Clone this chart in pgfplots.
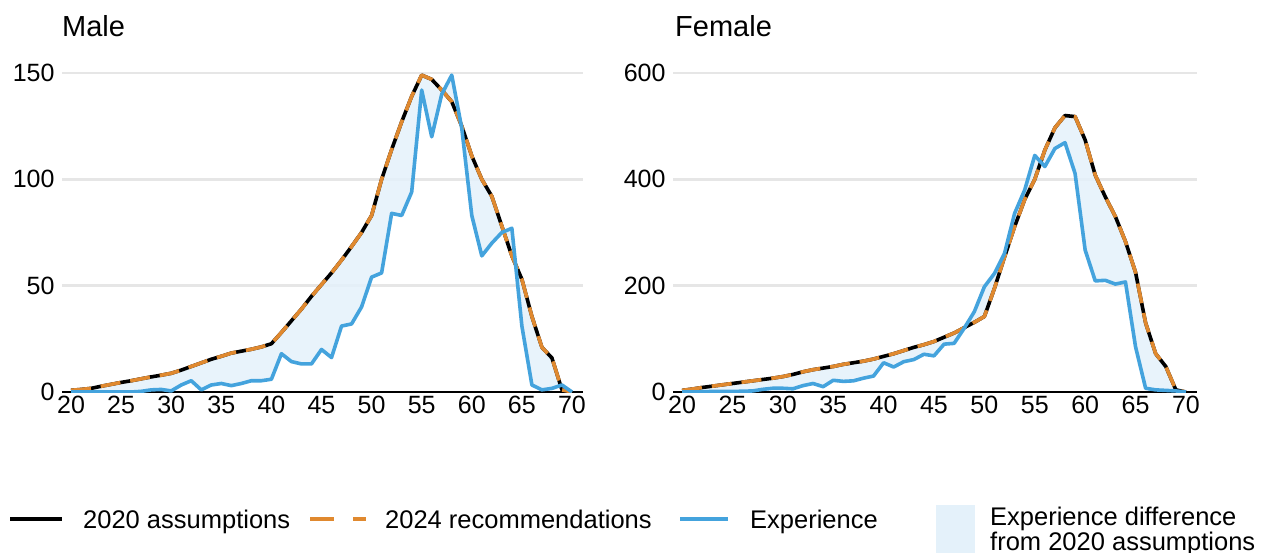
\documentclass[border=0pt]{standalone}
\usepackage{fontspec}
\setmainfont{Liberation Sans}
\usepackage{pgfplots}
\usepackage{pgfplotstable}
\pgfplotsset{compat=1.18}
\usepgfplotslibrary{fillbetween}

\definecolor{expblue}{HTML}{44A3DD}
\definecolor{recorange}{HTML}{E0892F}
\definecolor{fillblue}{HTML}{E4F1FA}
\definecolor{gridgray}{HTML}{E6E6E6}

% age, 2020 assumptions, 2024 recommendations, experience
\pgfplotstableread{
age assume rec exp
20 0.8 0.8 0
21 1.2 1.2 0
22 1.7 1.7 0
23 2.7 2.7 0
24 3.6 3.6 0
25 4.5 4.5 0
26 5.3 5.3 0
27 6.2 6.2 0.3
28 7.1 7.1 1
29 7.9 7.9 1.2
30 8.8 8.8 0.5
31 10.3 10.3 3.3
32 12.0 12.0 5.3
33 13.7 13.7 1
34 15.4 15.4 3.3
35 16.8 16.8 4
36 18.3 18.3 3
37 19.2 19.2 4
38 20.1 20.1 5.3
39 21.2 21.2 5.3
40 22.7 22.7 6
41 28 28 18
42 33.5 33.5 14.3
43 39 39 13.2
44 45 45 13.2
45 50.5 50.5 20
46 56 56 16.2
47 62 62 31
48 68.4 68.4 32
49 75 75 40
50 83 83 54
51 100 100 56
52 114 114 84
53 127 127 83
54 139 139 94
55 149 149 142
56 147 147 120
57 142 142 140
58 136.5 136.5 149
59 125 125 124
60 111 111 83
61 100 100 64
62 92 92 70
63 78 78 75
64 64 64 77
65 53 53 31
66 35.5 35.5 3.3
67 21 21 1
68 16 16 1.7
69 1 1 3.3
70 0 0 0
}\maletable

\pgfplotstableread{
age assume rec exp
20 3 3 0
21 5.5 5.5 0
22 8.5 8.5 0.5
23 11 11 1
24 13.5 13.5 1
25 16 16 1
26 18.5 18.5 1.5
27 21 21 2
28 23.5 23.5 5
29 26 26 7
30 29 29 7
31 33 33 6
32 38 38 12
33 42 42 16
34 45 45 10
35 48 48 22
36 52 52 20
37 55 55 21
38 58 58 26
39 62 62 30
40 67 67 55
41 72 72 47
42 78 78 57
43 84 84 61
44 89 89 71
45 95 95 68
46 103 103 90
47 111 111 91.5
48 121 121 120
49 131 131 151
50 142 142 198
51 195 195 223
52 254 254 261
53 311 311 336
54 362 362 380
55 400 400 445
56 455 455 424
57 497 497 458
58 520 520 469
59 518 518 411
60 474 474 267
61 408 408 209
62 367 367 210
63 330 330 203
64 283 283 207
65 225 225 85
66 130 130 7
67 72 72 4
68 48 48 3
69 4 4 2
70 0 0 0
}\femaletable

\newcommand\tickfont{\fontsize{25}{29}\selectfont}
\newcommand\legendfont{\fontsize{25.5}{29}\selectfont}
\newcommand\titlefont{\fontsize{29}{33}\selectfont}

\pgfplotsset{
  panel/.style={
    scale only axis,
    height=319pt,
    anchor=south west,
    xmin=19.1, xmax=71.1,
    ymin=0,
    axis x line*=bottom,
    axis y line*=left,
    y axis line style={draw=none},
    x axis line style={line width=1.5pt, -},
    tick style={draw=none},
    xtick={20,25,...,70},
    ymajorgrids,
    grid style={gridgray, line width=2.4pt},
    tick label style={font=\tickfont},
    /pgf/number format/assume math mode=true,
    yticklabel style={xshift=-4pt},
    xticklabel style={yshift=-1pt},
  },
  assumeline/.style={black, line width=3.6pt, line join=round},
  recline/.style={recorange, line width=3.6pt, dash pattern=on 20pt off 10pt, line join=round},
  expline/.style={expblue, line width=3.6pt, line join=round},
}

\begin{document}
\begin{tikzpicture}[x=1pt,y=1pt]

% Male panel
\begin{axis}[panel, at={(62pt,-392pt)}, width=521pt, ymax=150, ytick={0,50,100,150}]
  \addplot[draw=none, name path=mA] table[x=age, y=assume] {\maletable};
  \addplot[draw=none, name path=mE] table[x=age, y=exp] {\maletable};
  \addplot[fill=fillblue, fill opacity=0.85, draw=none] fill between[of=mA and mE];
  \addplot[assumeline] table[x=age, y=assume] {\maletable};
  \addplot[recline] table[x=age, y=rec] {\maletable};
  \addplot[expline] table[x=age, y=exp] {\maletable};
\end{axis}

% Female panel
\begin{axis}[panel, at={(673pt,-392pt)}, width=524pt, ymax=600, ytick={0,200,400,600}]
  \addplot[draw=none, name path=fA] table[x=age, y=assume] {\femaletable};
  \addplot[draw=none, name path=fE] table[x=age, y=exp] {\femaletable};
  \addplot[fill=fillblue, fill opacity=0.85, draw=none] fill between[of=fA and fE];
  \addplot[assumeline] table[x=age, y=assume] {\femaletable};
  \addplot[recline] table[x=age, y=rec] {\femaletable};
  \addplot[expline] table[x=age, y=exp] {\femaletable};
\end{axis}

% Panel titles
\node[anchor=base west, inner sep=0pt, font=\titlefont] at (62,-37) {Male};
\node[anchor=base west, inner sep=0pt, font=\titlefont] at (675,-37) {Female};

% Legend
\draw[black, line width=4pt] (10,-518.5) -- (62,-518.5);
\node[anchor=base west, inner sep=0pt, font=\legendfont] at (83,-528) {2020 assumptions};
\draw[recorange, line width=4pt, dash pattern=on 24pt off 19pt] (310,-518.5) -- (366,-518.5);
\node[anchor=base west, inner sep=0pt, font=\legendfont] at (385,-528) {2024 recommendations};
\draw[expblue, line width=4pt] (680,-518.5) -- (728,-518.5);
\node[anchor=base west, inner sep=0pt, font=\legendfont] at (750,-528) {Experience};
\fill[fillblue] (936,-505) rectangle (975,-553);
\node[anchor=base west, inner sep=0pt, font=\legendfont] at (990,-525) {Experience difference};
\node[anchor=base west, inner sep=0pt, font=\legendfont] at (990,-550) {from 2020 assumptions};

% page extent
\pgfresetboundingbox
\path[use as bounding box] (0,0) rectangle (1266,-553);
\end{tikzpicture}
\end{document}
